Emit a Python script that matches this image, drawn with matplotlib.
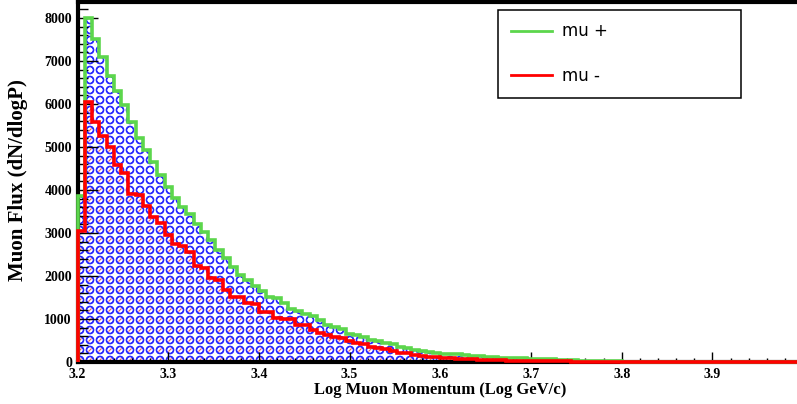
import numpy as np
import matplotlib
matplotlib.use("Agg")
import matplotlib.pyplot as plt
import matplotlib.hatch as mhatch
from matplotlib.path import Path
from matplotlib.lines import Line2D

# histogram: 100 bins of log10(p) between 3.2 and 4.0
bin_lo, bin_hi, n_bins = 3.2, 4.0, 100

mu_plus = [3850, 8000, 7500, 7100, 6650, 6300, 5980, 5590, 5200, 4930,
           4660, 4350, 4070, 3810, 3610, 3450, 3220, 3030, 2840, 2600,
           2410, 2220, 2020, 1900, 1760, 1640, 1520, 1480, 1380, 1230,
           1180, 1120, 1060, 980, 870, 810, 760, 660, 620, 570,
           520, 480, 440, 420, 360, 330, 270, 250, 230, 220,
           190, 180, 175, 165, 150, 140, 115, 110, 100, 95,
           90, 85, 80, 75, 70, 60, 50, 40, 35, 30,
           25, 20, 18, 15, 12, 10, 8, 7, 6, 5,
           4, 4, 3, 3, 2, 2, 2, 1, 1, 1,
           1, 0, 0, 0, 0, 0, 0, 0, 0, 0]

mu_minus = [3050, 6050, 5570, 5260, 5010, 4580, 4390, 3910, 3880, 3630,
            3370, 3230, 2950, 2740, 2700, 2560, 2230, 2190, 1950, 1900,
            1670, 1520, 1500, 1370, 1340, 1170, 1160, 1030, 1010, 990,
            870, 850, 740, 680, 630, 580, 550, 480, 440, 420,
            360, 330, 300, 250, 220, 200, 160, 140, 120, 110,
            100, 85, 75, 70, 65, 50, 45, 40, 35, 30,
            28, 25, 22, 20, 18, 15, 14, 12, 10, 9,
            8, 7, 6, 5, 4, 4, 3, 3, 2, 2,
            2, 1, 1, 1, 1, 0, 0, 0, 0, 0,
            0, 0, 0, 0, 0, 0, 0, 0, 0, 0]

x_ticks = [3.2, 3.3, 3.4, 3.5, 3.6, 3.7, 3.8, 3.9]
y_ticks = [0, 1000, 2000, 3000, 4000, 5000, 6000, 7000, 8000]

edges = np.linspace(bin_lo, bin_hi, n_bins + 1)

GREEN = "#5cd64c"
RED = "#ff0000"
BLUE = "#2a2aff"


# ROOT-like fill styles: square grid of open circles ('o') and small dashes ('.')
class RingGrid(mhatch.HatchPatternBase):
    def __init__(self, hatch, density):
        self.n = 10 if "o" in hatch else 0
        ring = Path.unit_circle()
        self.ring_v = np.concatenate([ring.vertices, ring.vertices[::-1] * 0.85])
        self.ring_c = np.concatenate([ring.codes, ring.codes])
        self.num_vertices = (self.n + 1) ** 2 * len(self.ring_v) if self.n else 0

    def set_vertices_and_codes(self, vertices, codes):
        step = 1.0 / self.n
        shape = self.ring_v * step * 0.38
        m = len(shape)
        i = 0
        for r in range(self.n + 1):
            for c in range(self.n + 1):
                vertices[i:i + m] = shape + [c * step, r * step]
                codes[i:i + m] = self.ring_c
                i += m


class DashGrid(mhatch.HatchPatternBase):
    def __init__(self, hatch, density):
        self.n = 10 if "." in hatch else 0
        self.num_vertices = (self.n + 1) ** 2 * 2 if self.n else 0

    def set_vertices_and_codes(self, vertices, codes):
        step = 1.0 / self.n
        d = 0.12 * step
        g = np.arange(self.n + 1) * step
        cx, cy = np.meshgrid(g, g)
        pts = np.column_stack([cx.ravel(), cy.ravel()])
        vertices[0::2] = pts - d
        vertices[1::2] = pts + d
        codes[0::2] = Path.MOVETO
        codes[1::2] = Path.LINETO


mhatch._hatch_types = [mhatch.HorizontalHatch, mhatch.VerticalHatch,
                       mhatch.NorthEastHatch, mhatch.SouthEastHatch,
                       RingGrid, DashGrid]
plt.rcParams["hatch.linewidth"] = 0.8

plt.rcParams["font.family"] = ["Liberation Serif", "DejaVu Serif"]
plt.rcParams["font.weight"] = "bold"

fig = plt.figure(figsize=(7.97, 4.04), dpi=100)
ax = fig.add_axes([77.5 / 797, 42 / 404, 725.6 / 797, 360 / 404])

# hatched areas
ax.stairs(mu_plus, edges, baseline=0, fill=True, facecolor="none",
          edgecolor=BLUE, hatch="o", linewidth=0)
ax.stairs(mu_minus, edges, baseline=0, fill=True, facecolor="none",
          edgecolor="#f05a5a", hatch=".", linewidth=0)

# outlines
ax.stairs(mu_plus, edges, baseline=0, color=GREEN, linewidth=2.6,
          zorder=3, clip_on=False)
ax.stairs(mu_minus, edges, baseline=0, color=RED, linewidth=2.6,
          zorder=3.1, clip_on=False)

ax.set_xlim(bin_lo, bin_hi)
ax.set_ylim(0, 8372)

ax.set_xticks(x_ticks)
ax.set_xticklabels([f"{v:.1f}" for v in x_ticks])
ax.set_xticks(np.arange(3.2, 4.001, 0.02), minor=True)
ax.set_yticks(y_ticks)
ax.set_yticks(np.arange(0, 8372, 200), minor=True)

ax.tick_params(axis="y", which="major", direction="in", length=14.4,
               width=1.0, pad=4, labelsize=10)
ax.tick_params(axis="y", which="minor", direction="in", length=7.2, width=1.0)
ax.tick_params(axis="x", which="major", direction="in", length=7.2,
               width=1.0, pad=4, labelsize=10)
ax.tick_params(axis="x", which="minor", direction="in", length=3.0, width=1.0)

for s in ["left", "bottom", "top"]:
    ax.spines[s].set_linewidth(3.0)
ax.spines["right"].set_visible(False)

fig.text(440 / 797, 1 - 390 / 404, "Log Muon Momentum (Log GeV/c)",
         ha="center", va="center", fontsize=12, fontweight="bold")
fig.text(18 / 797, 1 - 180 / 404, "Muon Flux (dN/dlogP)", rotation=90,
         ha="center", va="center", fontsize=15, fontweight="bold")

handles = [Line2D([], [], color=GREEN, linewidth=2.0),
           Line2D([], [], color=RED, linewidth=2.0)]
leg = ax.legend(handles, ["mu +", "mu -"], loc="upper left",
                bbox_to_anchor=(498 / 797, 1 - 100 / 404, 243 / 797, 90 / 404),
                bbox_transform=fig.transFigure, mode="expand",
                borderaxespad=0, borderpad=0.75, labelspacing=1.6,
                handlelength=2.5, handletextpad=0.6, fancybox=False,
                framealpha=1, edgecolor="black",
                prop={"family": "DejaVu Sans", "weight": "normal", "size": 12})
leg.get_frame().set_linewidth(1.1)

fig.savefig("out.png", dpi=100)
